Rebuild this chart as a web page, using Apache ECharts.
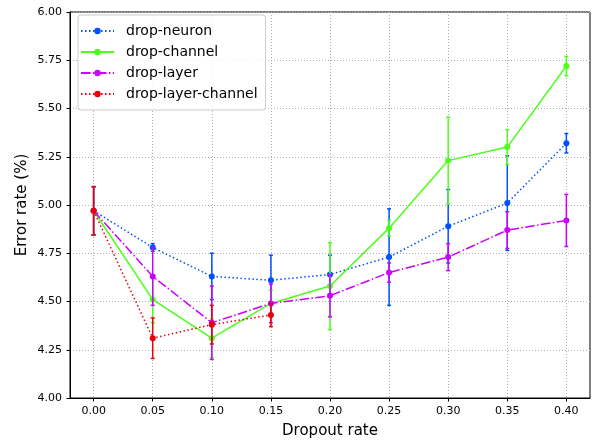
<!DOCTYPE html>
<html><head><meta charset="utf-8">
<script src="https://cdn.jsdelivr.net/npm/echarts@6/dist/echarts.min.js"></script>
<style>html,body{margin:0;padding:0;background:#fff}#c{width:597px;height:445px}</style>
</head><body><div id="c"></div>
<script>
const xs = [0.00, 0.05, 0.10, 0.15, 0.20, 0.25, 0.30, 0.35, 0.40];
const xTicks = [0.00, 0.05, 0.10, 0.15, 0.20, 0.25, 0.30, 0.35, 0.40];
const neuron = [4.97, 4.78, 4.63, 4.61, 4.64, 4.73, 4.89, 5.01, 5.32];
const neuronErr = [0.125, 0.02, 0.12, 0.13, 0.10, 0.25, 0.19, 0.245, 0.05];
const channel = [4.97, 4.51, 4.31, 4.49, 4.58, 4.88, 5.23, 5.30, 5.72];
const channelErr = [0.125, 0.12, 0.10, 0.07, 0.225, 0.04, 0.225, 0.09, 0.05];
const layer = [4.97, 4.63, 4.39, 4.49, 4.53, 4.65, 4.73, 4.87, 4.92];
const layerErr = [0.125, 0.15, 0.19, 0.10, 0.11, 0.05, 0.07, 0.095, 0.135];
const layerChannel = [4.97, 4.31, 4.38, 4.43];
const layerChannelErr = [0.125, 0.105, 0.10, 0.06];

const C_BLUE = '#0050ff', C_GREEN = '#4cff1a', C_PURPLE = '#cc00ff', C_RED = '#e8000b';
const FONT = 'DejaVu Sans';

function pts(vals){ return vals.map((v,i)=>[xs[i], v]); }
function errPts(vals, errs){ return vals.map((v,i)=>[xs[i], v, errs[i]]); }
function errRender(color){
  return function(params, api){
    const x = api.value(0), y = api.value(1), e = api.value(2);
    const t = api.coord([x, y + e]), b = api.coord([x, y - e]);
    const hw = 2;
    const st = {stroke: color, lineWidth: 1.5};
    return {type:'group', children:[
      {type:'line', shape:{x1:t[0], y1:t[1], x2:b[0], y2:b[1]}, style:st},
      {type:'line', shape:{x1:t[0]-hw, y1:t[1], x2:t[0]+hw, y2:t[1]}, style:st},
      {type:'line', shape:{x1:b[0]-hw, y1:b[1], x2:b[0]+hw, y2:b[1]}, style:st}
    ]};
  };
}
function lineSeries(name, vals, color, dash, z){
  return {name, type:'line', data: pts(vals), symbol:'circle', symbolSize:6,
    itemStyle:{color}, lineStyle:{color, width:1.5, type:dash}, z, animation:false};
}
function errSeries(name, vals, errs, color, z){
  return {name: name + ' err', type:'custom', data: errPts(vals, errs), encode:{x:0, y:1},
    renderItem: errRender(color), z, animation:false, silent:true};
}

const chart = echarts.init(document.getElementById('c'), null, {renderer:'canvas'});
chart.setOption({
  animation:false,
  backgroundColor:'#fff',
  textStyle:{fontFamily:FONT},
  grid:{left:70, right:7, top:12, bottom:47, show:true, borderColor:'#000', borderWidth:1, backgroundColor:'transparent'},
  legend:{
    orient:'vertical', left:78, top:15,
    data:['drop-neuron','drop-channel','drop-layer','drop-layer-channel'],
    itemWidth:33, itemHeight:8, itemGap:7,
    padding:[9,8,9,2],
    backgroundColor:'rgba(255,255,255,0.85)', borderColor:'#cccccc', borderWidth:1, borderRadius:3,
    textStyle:{fontFamily:FONT, fontSize:14, color:'#000', padding:[0,0,0,7]}
  },
  xAxis:{
    type:'value', min:-0.02, max:0.42,
    name:'Dropout rate', nameLocation:'middle', nameGap:26, nameMoveOverlap:false,
    nameTextStyle:{fontFamily:FONT, fontSize:15, color:'#000'},
    axisLine:{show:true, onZero:false, lineStyle:{color:'#000', width:1}},
    axisTick:{show:true, customValues:xTicks, length:3.5, lineStyle:{color:'#000'}},
    axisLabel:{customValues:xTicks, formatter:v=>v.toFixed(2), fontFamily:FONT, fontSize:11, color:'#000', margin:8},
    splitLine:{show:true, customValues:xTicks, lineStyle:{color:'#b0b0b0', type:[1,2], width:1}}
  },
  yAxis:{
    type:'value', min:4, max:6, interval:0.25,
    name:'Error rate (%)', nameLocation:'middle', nameGap:40, nameMoveOverlap:false,
    nameTextStyle:{fontFamily:FONT, fontSize:15, color:'#000'},
    axisLine:{show:true, onZero:false, lineStyle:{color:'#000', width:1}},
    axisTick:{show:true, length:3.5, lineStyle:{color:'#000'}},
    axisLabel:{formatter:v=>v.toFixed(2), fontFamily:FONT, fontSize:11, color:'#000', margin:8},
    splitLine:{show:true, lineStyle:{color:'#b0b0b0', type:[1,2], width:1}}
  },
  series:[
    lineSeries('drop-neuron', neuron, C_BLUE, [1.5,2.5], 4),
    lineSeries('drop-channel', channel, C_GREEN, 'solid', 6),
    lineSeries('drop-layer', layer, C_PURPLE, [9.6,2.4,1.5,2.4], 8),
    lineSeries('drop-layer-channel', layerChannel, C_RED, [1.5,2.5], 10),
    errSeries('drop-neuron', neuron, neuronErr, C_BLUE, 3),
    errSeries('drop-channel', channel, channelErr, C_GREEN, 5),
    errSeries('drop-layer', layer, layerErr, C_PURPLE, 7),
    errSeries('drop-layer-channel', layerChannel, layerChannelErr, C_RED, 9)
  ]
});
</script></body></html>
